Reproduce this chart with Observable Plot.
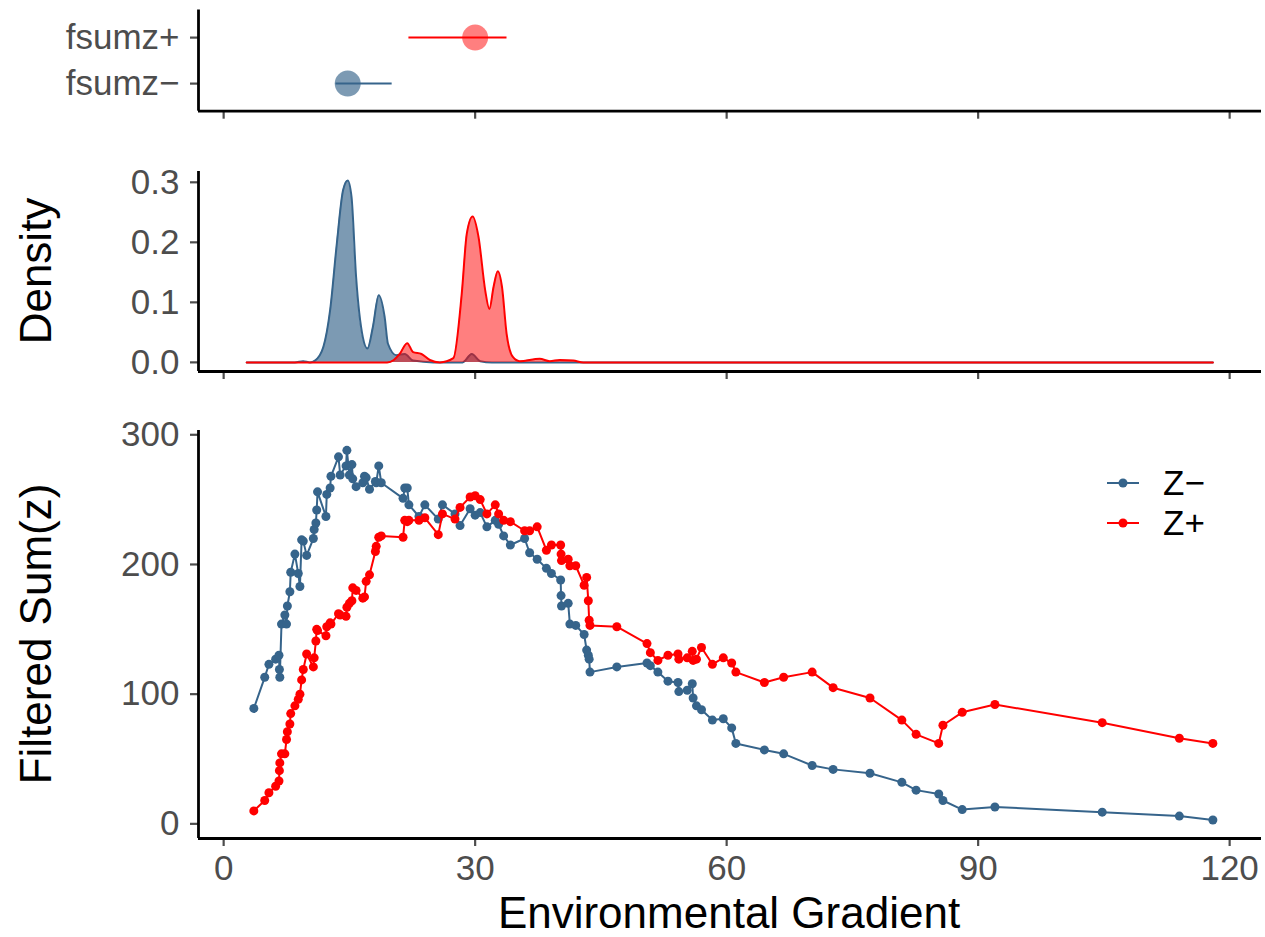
<!DOCTYPE html>
<html>
<head>
<meta charset="utf-8">
<script src="https://cdn.jsdelivr.net/npm/d3@7"></script>
<script src="https://cdn.jsdelivr.net/npm/@observablehq/plot@0.6"></script>
<style>
  body { margin: 0; background: #fff; font-family: "Liberation Sans", Arial, sans-serif; }
  #chart { position: relative; width: 1265px; height: 937px; overflow: hidden; }
  .panel { position: absolute; left: 0; }
  .title { position: absolute; font-size: 44px; color: #000; white-space: nowrap; line-height: 1.1; }
  .ytitle { transform: translate(-50%, -50%) rotate(-90deg); }
  .legend-item { position: absolute; display: flex; align-items: center; font-size: 35px; color: #000; }
</style>
</head>
<body>
<div id="chart"></div>
<script>
// ---------- DATA ----------
const blueColor = "#36648B";
const redColor = "#FF0000";

// summary (top panel)
const summaryNames = ["fsumz\u2212", "fsumz+"];
const summaryMid = [14.8, 30.0];
const summaryLo = [13.4, 22.1];
const summaryHi = [20.1, 33.8];

// density (middle panel)
const densBlueX = [2.75, 8.5, 9.5, 10.3, 10.9, 11.9, 12.7, 13.5, 14.25, 14.8, 15.25, 15.8, 16.6, 17.15, 17.8, 18.5, 19.2, 19.6, 20.6, 21.6, 22.6, 25, 28.5, 29.6, 30.6, 32, 118];
const densBlueY = [0, 0, 0.002, 0, 0.003, 0.026, 0.087, 0.198, 0.287, 0.303, 0.276, 0.142, 0.042, 0.023, 0.059, 0.112, 0.076, 0.031, 0.012, 0.014, 0.003, 0, 0, 0.014, 0.002, 0, 0];
const densRedX = [2.75, 19.5, 20.3, 21, 21.9, 22.6, 23.6, 24.6, 25.8, 27.4, 28.4, 29, 29.7, 30.4, 31.2, 31.7, 32.2, 32.7, 33.2, 33.75, 34.5, 35.3, 37.7, 38.9, 40.1, 41.7, 42.9, 118];
const densRedY = [0, 0, 0.004, 0.014, 0.032, 0.017, 0.014, 0.004, 0, 0.007, 0.114, 0.214, 0.243, 0.209, 0.12, 0.089, 0.126, 0.152, 0.126, 0.048, 0.009, 0.002, 0.006, 0.002, 0.004, 0.003, 0, 0];

// filtered sums (bottom panel)
const gradient = [3.6, 4.9, 5.4, 6.2, 6.6, 6.65, 6.7, 6.9, 7.3, 7.5, 7.6, 7.9, 8.0, 8.5, 8.9, 9.1, 9.3, 9.5, 9.9, 10.7, 10.8, 11.0, 11.1, 11.2, 12.2, 12.3, 12.7, 12.8, 13.7, 13.9, 14.6, 14.7, 15.0, 15.3, 15.4, 15.8, 16.6, 16.8, 17.0, 17.4, 18.1, 18.2, 18.5, 18.8, 21.4, 21.6, 21.9, 22.1, 23.3, 24.0, 25.6, 26.1, 27.6, 28.2, 29.4, 30.0, 30.6, 31.4, 32.4, 32.8, 33.4, 34.2, 35.9, 36.5, 37.4, 38.5, 39.1, 40.2, 40.25, 40.3, 41.1, 41.3, 42.0, 43.0, 43.3, 43.5, 43.6, 43.7, 46.9, 50.5, 50.9, 51.8, 53.0, 54.2, 54.3, 55.3, 55.9, 56.0, 56.4, 57.0, 58.3, 59.6, 60.6, 61.1, 64.5, 66.8, 70.2, 72.7, 77.1, 80.9, 82.6, 85.3, 85.8, 88.1, 92.0, 104.8, 114.0, 118.0];
const zMinus = [89, 113, 123, 127, 130, 119, 113, 154, 161, 154, 168, 179, 194, 208, 193, 183, 219, 218, 207, 220, 227, 232, 242, 256, 237, 254, 259, 268, 283, 269, 276, 288, 269, 277, 266, 260, 263, 268, 267, 258, 264, 263, 276, 263, 251, 259, 259, 246, 237, 246, 235, 246, 239, 230, 243, 238, 240, 229, 234, 231, 222, 215, 220, 209, 204, 197, 193, 188, 176, 168, 170, 154, 153, 146, 134, 130, 127, 117, 121, 124, 122, 117, 110, 109, 102, 103, 108, 97, 91, 88, 80, 81, 74, 62, 57, 54, 45, 42, 39, 32, 26, 23, 18, 11, 13, 9, 6, 3];
const zPlus = [10, 18, 24, 29, 33, 41, 47, 54, 54, 65, 71, 77, 85, 91, 96, 100, 111, 119, 131, 121, 128, 141, 150, 149, 145, 152, 155, 154, 162, 161, 160, 167, 170, 172, 182, 180, 174, 175, 187, 192, 210, 214, 221, 222, 221, 234, 233, 234, 234, 236, 223, 239, 235, 244, 252, 253, 250, 239, 246, 239, 234, 233, 226, 226, 229, 211, 215, 215, 208, 203, 204, 199, 199, 184, 190, 172, 157, 153, 152, 139, 132, 126, 130, 131, 127, 128, 133, 126, 127, 136, 123, 128, 124, 117, 109, 113, 117, 105, 97, 80, 69, 62, 76, 86, 92, 78, 66, 62];

const xTicks = [0, 30, 60, 90, 120];
const densTicks = [0, 0.1, 0.2, 0.3];
const sumTicks = [0, 100, 200, 300];
const legendNames = ["Z\u2212", "Z+"];

// ---------- BUILD ----------
const summary = summaryNames.map((name, i) => ({name, pos: i + 1, mid: summaryMid[i], lo: summaryLo[i], hi: summaryHi[i]}));
const densBlue = densBlueX.map((x, i) => ({x, d: densBlueY[i]}));
const densRed = densRedX.map((x, i) => ({x, d: densRedY[i]}));
const sums = gradient.map((x, i) => ({x, zm: zMinus[i], zp: zPlus[i]}));

const W = 1265;
const xDomain = [-3.0, 123.8];
const ML = 198, MR = 4;
const font = "Liberation Sans, Arial, sans-serif";
const style = {fontSize: "35px", fontFamily: font, background: "transparent", overflow: "visible"};
const axisCommon = {tickSize: 8, tickPadding: 11, color: "#4D4D4D", strokeWidth: 2.2, label: null};
const axisLine = {stroke: "#000", strokeWidth: 2.8};
const chart = document.getElementById("chart");

function place(svg, top) {
  svg.classList.add("panel");
  svg.style.top = top + "px";
  chart.appendChild(svg);
}

// top panel
const p1 = Plot.plot({
  width: W, height: 125, marginLeft: ML, marginRight: MR, marginTop: 9.5, marginBottom: 14.3,
  style,
  x: {domain: xDomain},
  y: {domain: [0.4, 2.6]},
  marks: [
    Plot.dot(summary.filter(d => d.pos === 1), {x: "mid", y: "pos", r: 13, fill: blueColor, fillOpacity: 0.65}),
    Plot.dot(summary.filter(d => d.pos === 2), {x: "mid", y: "pos", r: 13, fill: redColor, fillOpacity: 0.5}),
    Plot.ruleY(summary.filter(d => d.pos === 1), {y: "pos", x1: "lo", x2: "hi", stroke: blueColor, strokeWidth: 2}),
    Plot.ruleY(summary.filter(d => d.pos === 2), {y: "pos", x1: "lo", x2: "hi", stroke: redColor, strokeWidth: 2}),
    Plot.axisY({...axisCommon, ticks: [1, 2], tickFormat: v => summaryNames[v - 1]}),
    Plot.axisX({...axisCommon, ticks: xTicks, tickFormat: () => ""}),
    Plot.ruleX([xDomain[0]], axisLine),
    Plot.ruleY([0.4], axisLine)
  ]
});
place(p1, 0);

// density panel
const p2 = Plot.plot({
  width: W, height: 240, marginLeft: ML, marginRight: MR, marginTop: 21, marginBottom: 19,
  style,
  x: {domain: xDomain},
  y: {domain: [-0.0152, 0.318]},
  marks: [
    Plot.areaY(densBlue, {x: "x", y: "d", fill: blueColor, fillOpacity: 0.65, curve: "monotone-x"}),
    Plot.lineY(densBlue, {x: "x", y: "d", stroke: blueColor, strokeWidth: 2, curve: "monotone-x"}),
    Plot.areaY(densRed, {x: "x", y: "d", fill: redColor, fillOpacity: 0.5, curve: "monotone-x"}),
    Plot.lineY(densRed, {x: "x", y: "d", stroke: redColor, strokeWidth: 2, curve: "monotone-x"}),
    Plot.axisY({...axisCommon, ticks: densTicks, tickFormat: d3.format(".1f")}),
    Plot.axisX({...axisCommon, ticks: xTicks, tickFormat: () => ""}),
    Plot.ruleX([xDomain[0]], axisLine),
    Plot.ruleY([-0.0152], axisLine)
  ]
});
place(p2, 150);

// bottom panel
const p3 = Plot.plot({
  width: W, height: 532, marginLeft: ML, marginRight: MR, marginTop: 25, marginBottom: 99,
  style,
  x: {domain: xDomain},
  y: {domain: [-11.3, 303.3]},
  marks: [
    Plot.line(sums, {x: "x", y: "zm", stroke: blueColor, strokeWidth: 2}),
    Plot.dot(sums, {x: "x", y: "zm", r: 4.5, fill: blueColor}),
    Plot.line(sums, {x: "x", y: "zp", stroke: redColor, strokeWidth: 2}),
    Plot.dot(sums, {x: "x", y: "zp", r: 4.5, fill: redColor}),
    Plot.axisY({...axisCommon, ticks: sumTicks}),
    Plot.axisX({...axisCommon, ticks: xTicks, tickPadding: 9}),
    Plot.ruleX([xDomain[0]], axisLine),
    Plot.ruleY([-11.3], axisLine)
  ]
});
place(p3, 405);

// titles
function addTitle(text, x, y, rotate) {
  const el = document.createElement("div");
  el.className = "title" + (rotate ? " ytitle" : "");
  el.textContent = text;
  el.style.left = x + "px";
  el.style.top = y + "px";
  if (!rotate) el.style.transform = "translate(-50%, -50%)";
  chart.appendChild(el);
}
addTitle("Density", 36, 271, true);
addTitle("Filtered Sum(z)", 36, 634, true);
addTitle("Environmental Gradient", 729, 913, false);

// legend
const legendColors = [blueColor, redColor];
legendNames.forEach((name, i) => {
  const item = document.createElement("div");
  item.className = "legend-item";
  item.style.left = "1105px";
  item.style.top = (483 + i * 40 - 20) + "px";
  item.style.height = "40px";
  item.innerHTML = `<svg width="36" height="40" style="margin-right:22px"><line x1="2" x2="34" y1="20" y2="20" stroke="${legendColors[i]}" stroke-width="2"/><circle cx="18" cy="20" r="4.5" fill="${legendColors[i]}"/></svg><span>${name}</span>`;
  chart.appendChild(item);
});
</script>
</body>
</html>
